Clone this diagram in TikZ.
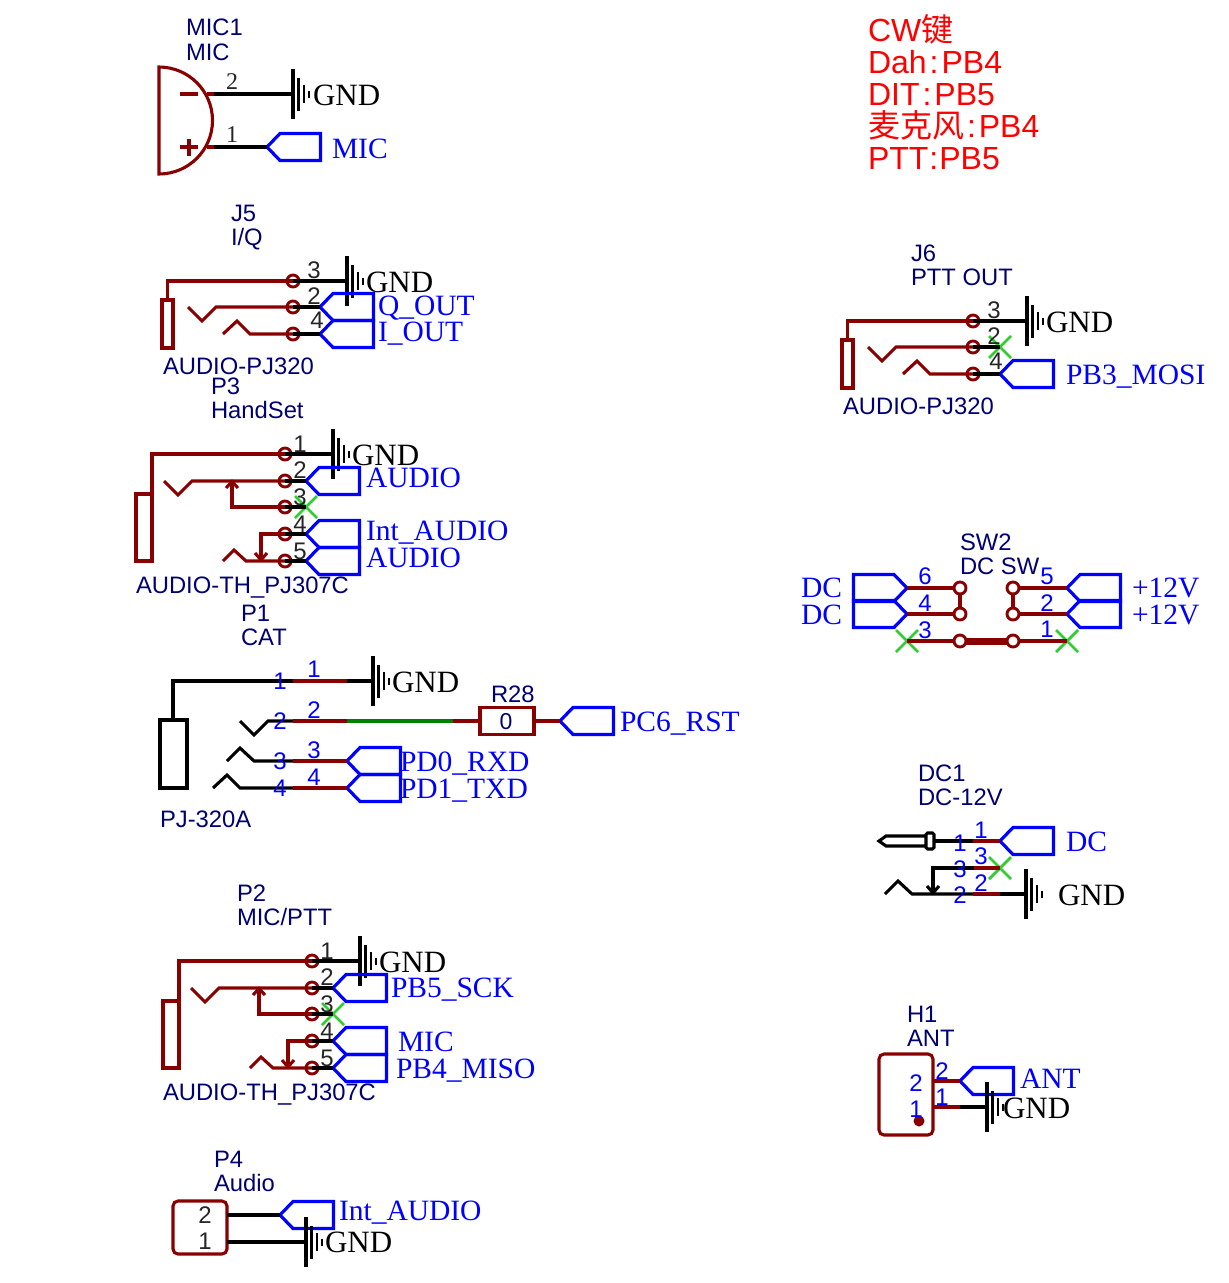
\documentclass[tikz,border=0pt]{standalone}
\usepackage{fontspec}
\setmainfont{Liberation Serif}
\newfontfamily\sansf{Liberation Sans}
\newfontfamily\cjkf{Noto Sans CJK SC}
\definecolor{wirered}{HTML}{880000}
\definecolor{navytxt}{HTML}{000070}
\definecolor{netblue}{HTML}{0000FF}
\definecolor{ncgreen}{HTML}{33CC33}
\definecolor{wiregreen}{HTML}{008000}
\newcounter{lb}
\newcommand\colonsp{\hspace{3pt}:\hspace{3pt}}
\tikzset{
  wr/.style={draw=wirered,line width=3.1pt,line join=miter},
  wk/.style={draw=black,line width=3.1pt},
  wg/.style={draw=wiregreen,line width=3.1pt},
  fb/.style={draw=netblue,line width=3.2pt,line join=miter},
  nc/.style={draw=ncgreen,line width=2.8pt},
  hole/.style={circle,draw=wirered,line width=2.9pt,minimum size=12pt,inner sep=0pt,outer sep=0pt},
  holew/.style={hole,fill=white},
  base/.style={anchor=base west,inner sep=0pt,outer sep=0pt},
  ctr/.style={anchor=base,inner sep=0pt,outer sep=0pt},
  desig/.style={base,text=navytxt,font=\sansf\fontsize{23.8}{24}\selectfont},
  netl/.style={base,text=netblue,font=\fontsize{29.5}{30}\selectfont},
  gndl/.style={base,text=black,font=\fontsize{31}{31}\selectfont},
  pinbk/.style={ctr,text=black!85,font=\sansf\fontsize{24}{24}\selectfont},
  pinser/.style={ctr,text=black!85,font=\fontsize{24}{24}\selectfont},
  pinbl/.style={ctr,text=netblue,font=\sansf\fontsize{24}{24}\selectfont},
  redt/.style={base,text=red,font=\sansf\fontsize{32}{32}\selectfont},
}
\newcommand\lab[4]{\stepcounter{lb}\node[#1] (lb\arabic{lb}) at (#2,#3) {#4};}
% flag pointing left: tip at x,y
\newcommand\flagleft[3]{\coordinate (#1) at (#2,#3);
  \draw[fb] (#1) -- ++(13,-13.5) -- ++(40.5,0) -- ++(0,27) -- ++(-40.5,0) -- cycle;}
% flag pointing right: tip at x,y
\newcommand\flagright[3]{\coordinate (#1) at (#2,#3);
  \draw[fb] (#1) -- ++(-13,-13.5) -- ++(-40.5,0) -- ++(0,27) -- ++(40.5,0) -- cycle;}
\newcommand\gndsym[5]{\coordinate (#1) at (#2,#3);
  \draw[line width=3.1pt] (#1) ++(0,-25) -- ++(0,50);
  \draw[line width=2.9pt] (#1) ++(5.5,-16.5) -- ++(0,33);
  \draw[line width=2.9pt] (#1) ++(11,-9) -- ++(0,18);
  \draw[line width=2.9pt] (#1) ++(16,-3.5) -- ++(0,7);
  \lab{gndl}{#4}{#5}{GND}}
\newcommand\nocon[3]{\coordinate (#1) at (#2,#3);
  \draw[nc] (#1) ++(-11,-11) -- ++(22,22);
  \draw[nc] (#1) ++(11,-11) -- ++(-22,22);}
% stereo jack, local coordinates of J5
\newcommand\jackthree[3]{\begin{scope}[shift={(#2,#3)}]
  \draw[wr] (162,300) rectangle (173,348);
  \node[hole] (#1c) at (293,281) {};
  \node[hole] (#1b) at (293,307) {};
  \node[hole] (#1d) at (293,334) {};
  \draw[wr] (167.5,300) |- (#1c.center);
  \draw[wr] (188,307) -- (202,321) -- (216,307) -- (#1b.center);
  \draw[wr] (223,334) -- (237,321) -- (250,334) -- (#1d.center);
  \end{scope}}
% switched jack, local coordinates of P3
\newcommand\jackfive[3]{\begin{scope}[shift={(#2,#3)}]
  \draw[wr] (136,494) rectangle (152,561);
  \node[hole] (#1a) at (285,454) {};
  \node[hole] (#1b) at (285,481) {};
  \node[hole] (#1c) at (285,507) {};
  \node[hole] (#1d) at (285,534) {};
  \node[hole] (#1e) at (285,561) {};
  \draw[wr] (152,494) |- (#1a.center);
  \draw[wr] (164,481) -- (178,495) -- (192,481) -- (#1b.center);
  \draw[wr] (232,481) -- (232,507) -- (#1c.center);
  \draw[wr] (226,488) -- (232,481.5) -- (238,488);
  \draw[wr] (223,561) -- (234,550) -- (246,561) -- (#1e.center);
  \draw[wr] (#1d.center) -- (261,534) -- (261,561);
  \draw[wr] (255,553) -- (261,560) -- (267,553);
  \end{scope}}
\begin{document}
\begin{tikzpicture}[x=1pt,y=-1pt]
\useasboundingbox (0,0) rectangle (1229,1283);

% ---- red notes
\lab{redt}{868}{41}{CW{\cjkf 键}}
\lab{redt}{868}{73}{Dah\colonsp PB4}
\lab{redt}{868}{105}{DIT\colonsp PB5}
\lab{redt}{868}{137}{{\cjkf 麦克风}\colonsp PB4}
\lab{redt}{868}{169}{PTT\hspace{1pt}:\hspace{1pt}PB5}

% ---- MIC1
\lab{desig}{186}{35}{MIC1}
\lab{desig}{186}{60}{MIC}
\draw[wr] (159,67) arc[start angle=-90,end angle=90,radius=53.5] -- cycle;
\draw[wr] (180,94) -- (198,94);
\draw[wr] (180,147) -- (198,147);
\draw[wr] (189,139) -- (189,156);
\coordinate (mica) at (207,94);
\coordinate (micb) at (207,147);
\coordinate (micaw) at (214,94);
\coordinate (micbw) at (214,147);
\gndsym{micg}{293}{94}{313}{105}
\flagleft{micf}{267}{147}
\draw[wr] (mica) -- (micaw);
\draw[wr] (micb) -- (micbw);
\draw[wk] (micaw) -- (micg);
\draw[wk] (micbw) -- (micf);
\lab{pinser}{232}{89}{2}
\lab{pinser}{232}{142}{1}
\lab{netl}{332}{158}{MIC}

% ---- J5
\lab{desig}{231}{221}{J5}
\lab{desig}{231}{245}{I/Q}
\jackthree{jf}{0}{0}
\gndsym{jfg}{347}{281}{366}{292}
\flagleft{jff}{320}{307}
\flagleft{jfh}{320}{334}
\draw[wk] (jfc.center) -- (jfg);
\draw[wk] (jfb.center) -- (jff);
\draw[wk] (jfd.center) -- (jfh);
\lab{pinbk}{314}{278}{3}
\lab{pinbk}{314}{304}{2}
\lab{pinbk}{317}{328}{4}
\lab{netl}{378}{315}{Q\_OUT}
\lab{netl}{378}{341}{I\_OUT}
\lab{desig}{163}{374}{AUDIO-PJ320}

% ---- P3
\lab{desig}{211}{394}{P3}
\lab{desig}{211}{418}{HandSet}
\jackfive{pt}{0}{0}
\gndsym{ptg}{333}{454}{352}{465}
\flagleft{ptf}{306}{481}
\nocon{ptx}{306}{507}
\flagleft{pth}{306}{534}
\flagleft{ptk}{306}{561}
\draw[wk] (pta.center) -- (ptg);
\draw[wk] (ptb.center) -- (ptf);
\draw[wk] (ptc.center) -- (ptx);
\draw[wk] (ptd.center) -- (pth);
\draw[wk] (pte.center) -- (ptk);
\lab{pinbk}{300}{452}{1}
\lab{pinbk}{300}{478}{2}
\lab{pinbk}{300}{505}{3}
\lab{pinbk}{300}{532}{4}
\lab{pinbk}{300}{559}{5}
\lab{netl}{366}{487}{AUDIO}
\lab{netl}{366}{540}{Int\_AUDIO}
\lab{netl}{366}{567}{AUDIO}
\lab{desig}{136}{593}{AUDIO-TH\_PJ307C}

% ---- P1
\lab{desig}{241}{621}{P1}
\lab{desig}{241}{645}{CAT}
\draw[wk] (160,720) rectangle (187,788);
\coordinate (poa) at (293,681);
\coordinate (poaa) at (347,681);
\gndsym{pog}{373}{681}{392}{692}
\draw[wk] (173,720) |- (poa);
\draw[wr] (poa) -- (poaa);
\draw[wk] (poaa) -- (pog);
\coordinate (pob) at (293,721);
\coordinate (pobb) at (347,721);
\coordinate (pobc) at (453,721);
\node[draw=wirered,line width=3.1pt,minimum width=54pt,minimum height=27pt,inner sep=0pt,outer sep=0pt] (rte) at (507,721) {};
\lab{ctr,text=navytxt,font=\sansf\fontsize{23}{24}\selectfont}{506}{729}{0}
\lab{desig}{491}{702}{R28}
\flagleft{pof}{560}{721}
\draw[wk] (240,721) -- (254,735) -- (268,721) -- (pob);
\draw[wr] (pob) -- (pobb);
\draw[wg] (pobb) -- (pobc);
\draw[wr] (pobc) -- (rte);
\draw[wr] (rte) -- (pof);
\coordinate (poc) at (293,761);
\coordinate (pod) at (293,788);
\flagleft{poh}{347}{761}
\flagleft{pok}{347}{788}
\draw[wk] (227,761) -- (240,748) -- (254,761) -- (poc);
\draw[wk] (213,788) -- (227,775) -- (240,788) -- (pod);
\draw[wr] (poc) -- (poh);
\draw[wr] (pod) -- (pok);
\lab{pinbl}{280}{689}{1}
\lab{pinbl}{314}{677}{1}
\lab{pinbl}{280}{729}{2}
\lab{pinbl}{314}{718}{2}
\lab{pinbl}{280}{769}{3}
\lab{pinbl}{314}{758}{3}
\lab{pinbl}{280}{796}{4}
\lab{pinbl}{314}{785}{4}
\lab{netl}{620}{731}{PC6\_RST}
\lab{netl}{400}{771}{PD0\_RXD}
\lab{netl}{400}{798}{PD1\_TXD}
\lab{desig}{160}{827}{PJ-320A}

% ---- P2
\lab{desig}{237}{901}{P2}
\lab{desig}{237}{925}{MIC/PTT}
\jackfive{pw}{27}{507}
\gndsym{pwg}{360}{961}{379}{972}
\flagleft{pwf}{333}{988}
\nocon{pwx}{333}{1014}
\flagleft{pwh}{333}{1041}
\flagleft{pwk}{333}{1068}
\draw[wk] (pwa.center) -- (pwg);
\draw[wk] (pwb.center) -- (pwf);
\draw[wk] (pwc.center) -- (pwx);
\draw[wk] (pwd.center) -- (pwh);
\draw[wk] (pwe.center) -- (pwk);
\lab{pinbk}{327}{959}{1}
\lab{pinbk}{327}{985}{2}
\lab{pinbk}{327}{1012}{3}
\lab{pinbk}{327}{1039}{4}
\lab{pinbk}{327}{1066}{5}
\lab{netl}{391}{997}{PB5\_SCK}
\lab{netl}{398}{1051}{MIC}
\lab{netl}{396}{1078}{PB4\_MISO}
\lab{desig}{163}{1100}{AUDIO-TH\_PJ307C}

% ---- P4
\lab{desig}{214}{1167}{P4}
\lab{desig}{214}{1191}{Audio}
\draw[wr,rounded corners=5pt] (173,1201) rectangle (227,1254);
\coordinate (pfa) at (227,1215);
\coordinate (pfb) at (227,1242);
\flagleft{pff}{280}{1215}
\gndsym{pfg}{306}{1242}{325}{1252}
\draw[wk] (pfa) -- (pff);
\draw[wk] (pfb) -- (pfg);
\lab{pinbk}{205}{1223}{2}
\lab{pinbk}{205}{1249}{1}
\lab{netl}{339}{1220}{Int\_AUDIO}

% ---- J6
\lab{desig}{911}{261}{J6}
\lab{desig}{911}{285}{PTT OUT}
\jackthree{js}{680}{40}
\gndsym{jsg}{1027}{321}{1046}{332}
\nocon{jsx}{1000}{347}
\flagleft{jsf}{1000}{374}
\draw[wk] (jsc.center) -- (jsg);
\draw[wk] (jsb.center) -- (jsx);
\draw[wk] (jsd.center) -- (jsf);
\lab{pinbk}{994}{318}{3}
\lab{pinbk}{994}{344}{2}
\lab{pinbk}{996}{369}{4}
\lab{netl}{1066}{384}{PB3\_MOSI}
\lab{desig}{843}{414}{AUDIO-PJ320}

% ---- SW2
\lab{desig}{960}{550}{SW2}
\lab{desig}{960}{574}{DC SW}
\flagright{swf}{907}{588}
\flagright{swe}{907}{614}
\flagleft{swg}{1067}{588}
\flagleft{swh}{1067}{614}
\nocon{swx}{907}{641}
\nocon{swy}{1067}{641}
\node[holew] (swa) at (960,588) {};
\node[holew] (swb) at (960,614) {};
\node[holew] (swc) at (960,641) {};
\node[holew] (swd) at (1013,588) {};
\node[holew] (swi) at (1013,614) {};
\node[holew] (swj) at (1013,641) {};
\draw[wr] (swf) -- (swa);
\draw[wr] (swe) -- (swb);
\draw[wr] (swa) -- (swb);
\draw[wr] (swg) -- (swd);
\draw[wr] (swh) -- (swi);
\draw[wr] (swd) -- (swi);
\draw[wr] (swx) -- (swc);
\draw[wr] (swy) -- (swj);
\draw[draw=wirered,line width=7pt] (swc) -- (swj);
\lab{pinbl}{925}{584}{6}
\lab{pinbl}{925}{611}{4}
\lab{pinbl}{925}{638}{3}
\lab{pinbl}{1047}{584}{5}
\lab{pinbl}{1047}{611}{2}
\lab{pinbl}{1047}{637}{1}
\lab{netl}{801}{597}{DC}
\lab{netl}{801}{624}{DC}
\lab{netl}{1132}{597}{+12V}
\lab{netl}{1132}{624}{+12V}

% ---- DC1
\lab{desig}{918}{781}{DC1}
\lab{desig}{918}{805}{DC-12V}
\draw[wk] (926,836) -- (886,836) -- (879,841) -- (886,846) -- (926,846);
\draw[wk,rounded corners=1.5pt] (926,833) rectangle (934,849);
\coordinate (dca) at (934,841);
\coordinate (dcaa) at (973,841);
\flagleft{dcf}{1000}{841}
\draw[wk] (dca) -- (dcaa);
\draw[wr] (dcaa) -- (dcf);
\nocon{dcx}{1000}{868}
\coordinate (dcc) at (974,868);
\coordinate (dcd) at (933,894);
\draw[wr] (dcc) -- (dcx);
\draw[wk] (dcc) -- (933,868) -- (dcd);
\draw[wk] (927,886) -- (933,893) -- (939,886);
\coordinate (dce) at (973,894);
\coordinate (dcee) at (1000,894);
\gndsym{dcg}{1026}{894}{1058}{905}
\draw[wk] (885,894) -- (898,881) -- (912,894) -- (dce);
\draw[wr] (dce) -- (dcee);
\draw[wk] (dcee) -- (dcg);
\lab{pinbl}{960}{851}{1}
\lab{pinbl}{981}{838}{1}
\lab{pinbl}{960}{877}{3}
\lab{pinbl}{981}{864}{3}
\lab{pinbl}{960}{903}{2}
\lab{pinbl}{981}{891}{2}
\lab{netl}{1066}{851}{DC}

% ---- H1
\lab{desig}{907}{1022}{H1}
\lab{desig}{907}{1046}{ANT}
\draw[wr,rounded corners=5pt] (879,1054) rectangle (933,1135);
\fill[wirered] (919,1121) circle[radius=5.5];
\coordinate (hoa) at (933,1081);
\coordinate (hob) at (933,1107);
\coordinate (hoc) at (960,1107);
\flagleft{hof}{960}{1081}
\gndsym{hog}{987}{1107}{1003}{1118}
\draw[wr] (hoa) -- (hof);
\draw[wr] (hob) -- (hoc);
\draw[wk] (hoc) -- (hog);
\lab{pinbl}{916}{1091}{2}
\lab{pinbl}{916}{1117}{1}
\lab{pinbl}{942}{1079}{2}
\lab{pinbl}{942}{1105}{1}
\lab{netl}{1020}{1088}{ANT}
\end{tikzpicture}
\end{document}
